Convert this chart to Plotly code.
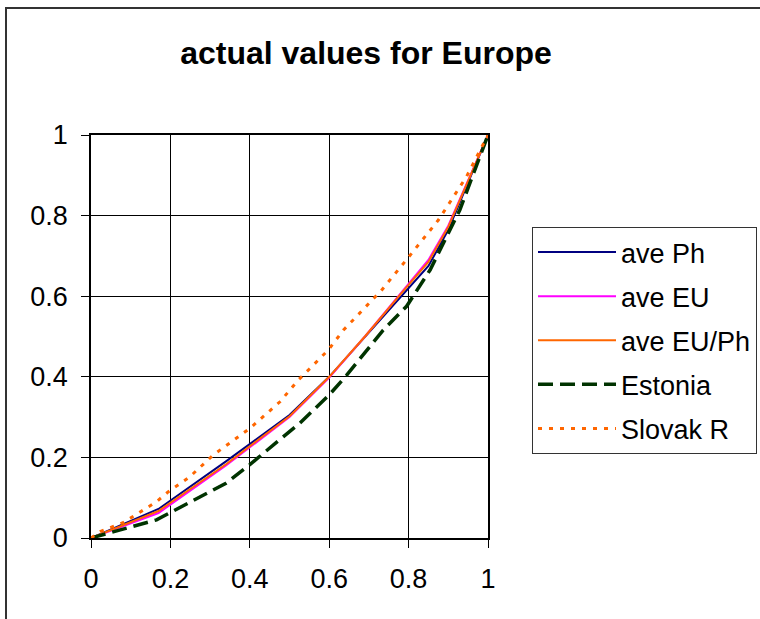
import plotly.graph_objects as go

# Cumulative population share (x) vs cumulative income share (y)
ave_x = [0, 0.17, 0.34, 0.5, 0.6, 0.69, 0.78, 0.85, 0.9, 1]
ave_ph_y = [0, 0.072, 0.19, 0.305, 0.40, 0.50, 0.60, 0.675, 0.765, 1]
ave_eu_y = [0, 0.062, 0.18, 0.30, 0.398, 0.50, 0.607, 0.69, 0.775, 1]
ave_euph_y = [0, 0.067, 0.183, 0.302, 0.40, 0.50, 0.605, 0.685, 0.772, 1]

estonia_x = [0, 0.165, 0.34, 0.4, 0.484, 0.526, 0.6, 0.644, 0.736, 0.795, 0.854, 0.929, 1]
estonia_y = [0, 0.045, 0.136, 0.182, 0.251, 0.285, 0.355, 0.404, 0.516, 0.575, 0.665, 0.814, 1]

slovak_x = [0, 0.023, 0.081, 0.14, 0.165, 0.195, 0.249, 0.308, 0.4, 0.476, 0.522,
            0.552, 0.598, 0.636, 0.732, 0.791, 0.875, 0.946, 1]
slovak_y = [0, 0.016, 0.038, 0.074, 0.09, 0.115, 0.152, 0.206, 0.272, 0.338, 0.392,
            0.421, 0.467, 0.516, 0.615, 0.686, 0.789, 0.897, 1]

tick_vals = [0, 0.2, 0.4, 0.6, 0.8, 1]
tick_text = ["0", "0.2", "0.4", "0.6", "0.8", "1"]

FONT = "Liberation Sans, Arial, sans-serif"

fig = go.Figure()
series = [
    ("ave Ph", ave_x, ave_ph_y, dict(color="#000080", width=2)),
    ("ave EU", ave_x, ave_eu_y, dict(color="#FF00FF", width=2)),
    ("ave EU/Ph", ave_x, ave_euph_y, dict(color="#FF6600", width=2)),
    ("Estonia", estonia_x, estonia_y, dict(color="#003300", width=3.5, dash="15px,7px")),
    ("Slovak R", slovak_x, slovak_y, dict(color="#FF6600", width=3, dash="4px,7px")),
]
for name, xs, ys, line in series:
    fig.add_trace(go.Scatter(x=xs, y=ys, mode="lines", name=name, line=line,
                             legendgroup=name))

axis_common = dict(
    range=[0, 1], tickvals=tick_vals, ticktext=tick_text,
    showgrid=True, gridcolor="#000000", gridwidth=1,
    showline=True, linecolor="#000000", linewidth=1.5, mirror=True,
    ticks="outside", ticklen=8, tickcolor="#000000",
    zeroline=False, tickfont=dict(family=FONT, size=27, color="#000000"),
    fixedrange=True,
)
fig.update_xaxes(ticklabelstandoff=8, **axis_common)
fig.update_yaxes(ticklabelstandoff=8, **axis_common)

# outer chart frame
W, H = 760, 619
L, R, T, B = 91, 272, 135, 81
pw, ph = W - L - R, H - T - B


def px_x(p):
    return (p - L) / pw


def px_y(p):
    return (H - B - p) / ph


fig.add_shape(type="rect", xref="paper", yref="paper",
              x0=px_x(6), x1=px_x(900), y0=px_y(8), y1=px_y(900),
              line=dict(color="#333333", width=2), fillcolor="rgba(0,0,0,0)")

fig.update_layout(
    width=W, height=H,
    margin=dict(l=L, r=R, t=T, b=B, pad=0, autoexpand=False),
    paper_bgcolor="white", plot_bgcolor="white",
    title=dict(text="<b>actual values for Europe</b>", x=366 / W, xanchor="center",
               y=1 - 53 / H, yanchor="middle",
               font=dict(family=FONT, size=32, color="#000000")),
    legend=dict(x=px_x(532), y=px_y(227), xanchor="left", yanchor="top",
                bordercolor="#333333", borderwidth=1, bgcolor="white",
                font=dict(family=FONT, size=27, color="#000000"),
                itemwidth=78, tracegroupgap=6, traceorder="grouped"),
    showlegend=True,
)

fig.write_html("out.html")
